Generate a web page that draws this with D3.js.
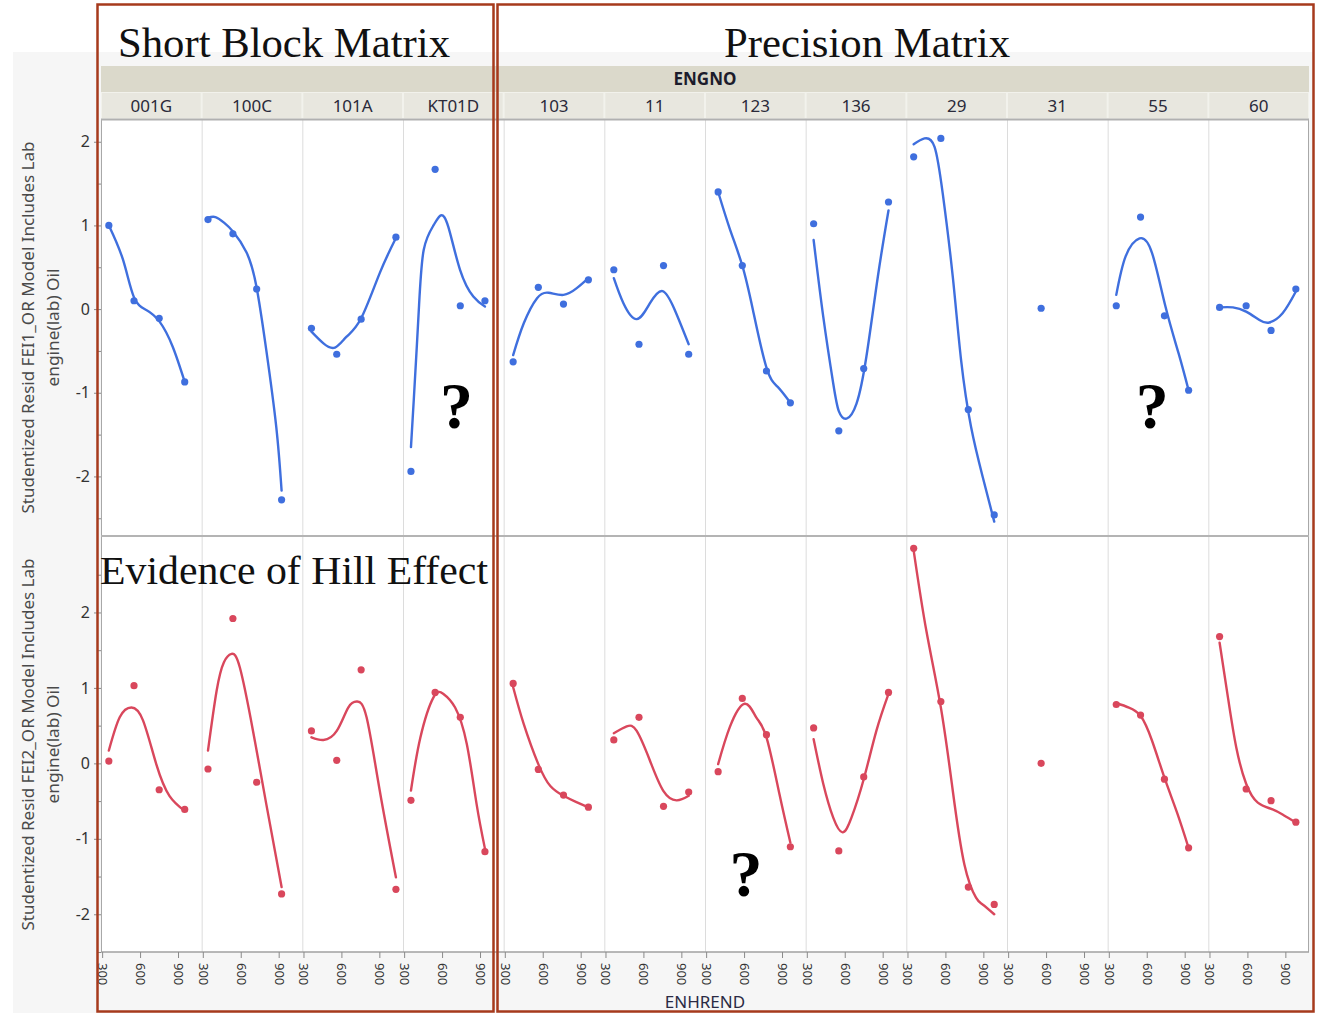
<!DOCTYPE html>
<html>
<head>
<meta charset="utf-8">
<script src="https://cdn.jsdelivr.net/npm/d3@7"></script>
<style>
  html, body { margin: 0; padding: 0; background: #ffffff; }
  svg { display: block; }
</style>
</head>
<body>
<svg id="chart" width="1319" height="1013"></svg>
<script>
// ---- data -----------------------------------------------------------------
const engines = ["001G", "100C", "101A", "KT01D", "103", "11", "123", "136", "29", "31", "55", "60"];

// ENHREND of each test, per engine
const enhrend = [
  [353, 552, 751, 953],
  [341, 538, 726, 923],
  [363, 563, 756, 1031],
  [354, 545, 744, 939],
  [366, 565, 764, 961],
  [366, 565, 759, 958],
  [395, 586, 777, 966],
  [354, 553, 750, 946],
  [349, 564, 781, 986],
  [561],
  [359, 551, 740, 931],
  [380, 590, 787, 983]
];

// Studentized residuals, FEI1 model
const residFEI1 = [
  [1.00, 0.10, -0.11, -0.87],
  [1.07, 0.90, 0.24, -2.28],
  [-0.23, -0.54, -0.12, 0.86],
  [-1.94, 1.67, 0.04, 0.10],
  [-0.63, 0.26, 0.06, 0.35],
  [0.47, -0.42, 0.52, -0.54],
  [1.40, 0.52, -0.74, -1.12],
  [1.02, -1.455, -0.71, 1.28],
  [1.82, 2.04, -1.20, -2.46],
  [0.01],
  [0.04, 1.10, -0.08, -0.97],
  [0.02, 0.04, -0.255, 0.24]
];

// Studentized residuals, FEI2 model
const residFEI2 = [
  [0.03, 1.03, -0.35, -0.61],
  [-0.075, 1.92, -0.25, -1.73],
  [0.43, 0.04, 1.24, -1.67],
  [-0.49, 0.94, 0.61, -1.17],
  [1.06, -0.08, -0.42, -0.58],
  [0.31, 0.61, -0.57, -0.38],
  [-0.11, 0.86, 0.38, -1.105],
  [0.47, -1.16, -0.18, 0.94],
  [2.85, 0.82, -1.64, -1.87],
  [0.00],
  [0.78, 0.64, -0.21, -1.12],
  [1.68, -0.34, -0.495, -0.78]
];

// Smoothing-spline fit, FEI1 model: [ENHREND, fitted residual]
const fitFEI1 = [
  [[353, 1.0], [465, 0.59], [552, 0.14], [649, -0.01], [754, -0.15], [858, -0.45], [953, -0.87]],
  [[341, 1.09], [400, 1.10], [470, 1.03], [540, 0.925], [645, 0.68], [724, 0.27], [802, -0.49], [881, -1.41], [923, -2.17]],
  [[363, -0.27], [458, -0.41], [549, -0.46], [641, -0.33], [756, -0.11], [903, 0.43], [1031, 0.85]],
  [[354, -1.65], [376, -1.09], [416, -0.01], [455, 0.71], [532, 1.0], [590, 1.12], [650, 0.98], [742, 0.47], [847, 0.15], [939, 0.03]],
  [[366, -0.55], [450, -0.17], [555, 0.13], [646, 0.195], [764, 0.17], [869, 0.25], [961, 0.37]],
  [[366, 0.37], [442, 0.07], [547, -0.12], [652, 0.07], [751, 0.215], [848, -0.01], [958, -0.42]],
  [[395, 1.40], [487, 0.96], [586, 0.52], [670, -0.01], [777, -0.70], [866, -0.93], [966, -1.12]],
  [[354, 0.825], [430, -0.09], [509, -0.89], [553, -1.22], [614, -1.31], [693, -1.13], [771, -0.57], [862, 0.39], [946, 1.18]],
  [[349, 1.97], [435, 2.04], [514, 1.94], [579, 1.38], [658, 0.39], [724, -0.61], [803, -1.41], [894, -2.0], [986, -2.54]],
  [],
  [[359, 0.17], [433, 0.63], [543, 0.845], [642, 0.67], [748, 0.03], [852, -0.53], [931, -0.97]],
  [[380, 0.02], [485, 0.02], [590, -0.03], [695, -0.13], [773, -0.16], [878, -0.05], [983, 0.21]]
];

// Smoothing-spline fit, FEI2 model: [ENHREND, fitted residual]
const fitFEI2 = [
  [[353, 0.17], [439, 0.61], [531, 0.74], [623, 0.57], [728, -0.01], [832, -0.43], [953, -0.63]],
  [[341, 0.17], [409, 0.96], [467, 1.34], [527, 1.45], [593, 1.27], [697, 0.43], [802, -0.54], [923, -1.64]],
  [[363, 0.345], [458, 0.31], [563, 0.43], [654, 0.74], [725, 0.82], [799, 0.61], [903, -0.36], [1031, -1.51]],
  [[354, -0.36], [428, 0.34], [532, 0.875], [611, 0.92], [703, 0.74], [795, 0.26], [873, -0.54], [939, -1.13]],
  [[366, 1.01], [450, 0.52], [565, -0.01], [660, -0.30], [764, -0.43], [862, -0.51], [961, -0.58]],
  [[366, 0.40], [468, 0.49], [547, 0.43], [652, 0.035], [756, -0.36], [862, -0.49], [958, -0.43]],
  [[395, -0.01], [487, 0.48], [604, 0.79], [696, 0.61], [777, 0.345], [880, -0.41], [966, -1.05]],
  [[354, 0.32], [430, -0.27], [509, -0.72], [582, -0.915], [653, -0.72], [750, -0.21], [850, 0.43], [946, 0.92]],
  [[349, 2.82], [449, 1.76], [564, 0.74], [658, -0.36], [750, -1.34], [842, -1.78], [894, -1.87], [986, -2.0]],
  [],
  [[359, 0.80], [459, 0.74], [551, 0.63], [642, 0.30], [740, -0.19], [839, -0.65], [931, -1.12]],
  [[380, 1.60], [446, 0.875], [512, 0.21], [590, -0.27], [682, -0.52], [799, -0.61], [890, -0.69], [983, -0.78]]
];

const yTicks = [-2, -1, 0, 1, 2];
const yMinorTicks = [-2.5, -1.5, -0.5, 0.5, 1.5, 2.5];
const xTicks = [300, 600, 900];

const rowTitles = ["Studentized Resid FEI1_OR Model Includes Lab", "Studentized Resid FEI2_OR Model Includes Lab"];
const rowSubtitle = "engine(lab) Oil";
const groupTitle = "ENGNO";
const xTitle = "ENHREND";

// callouts written over the chart
const boxTitles = ["Short Block Matrix", "Precision Matrix"];
const hillNote = "Evidence of Hill Effect";
// question marks: [engine, row, ENHREND, residual at glyph baseline]
const queries = [["KT01D", 0, 714, -1.42], ["55", 0, 643, -1.42], ["123", 1, 615, -1.76]];

// ---- layout ---------------------------------------------------------------
const svg = d3.select("#chart");
const sans = "'Noto Sans', 'Open Sans', sans-serif";
const serif = "'Liberation Serif', 'DejaVu Serif', serif";
const plotL = 101, plotR = 1309;
const frameColor = "#a8a8a8";

const rows = [
  { top: 120, bottom: 535, domain: [-2.7, 2.26], pts: residFEI1, fit: fitFEI1, color: "#3f6fde" },
  { top: 537, bottom: 952, domain: [-2.5, 3.0], pts: residFEI2, fit: fitFEI2, color: "#d9475c" }
];
rows.forEach(r => { r.y = d3.scaleLinear().domain(r.domain).range([r.bottom, r.top]); });

const band = d3.scaleBand().domain(engines).range([plotL, plotR]).padding(0);
const xPanel = d3.scaleLinear().domain([291, 1087]).range([0, band.bandwidth()]);

// report background
svg.append("rect").attr("x", 13).attr("y", 52).attr("width", 1300).attr("height", 961).attr("fill", "#f6f6f6");

// ---- group header ---------------------------------------------------------
svg.append("rect").attr("x", plotL).attr("y", 66).attr("width", plotR - plotL).attr("height", 26).attr("fill", "#dbd9cb");
svg.append("text").attr("x", (plotL + plotR) / 2).attr("y", 85)
  .attr("text-anchor", "middle").attr("font-family", sans).attr("font-size", 17)
  .attr("font-weight", "bold").attr("fill", "#1c1c2c").text(groupTitle);

svg.append("rect").attr("x", plotL).attr("y", 92).attr("width", plotR - plotL).attr("height", 27).attr("fill", "#f2f2ec");
const cells = svg.append("g").selectAll("g").data(engines).join("g")
  .attr("transform", d => `translate(${band(d)},0)`);
cells.append("rect").attr("x", 1).attr("y", 93).attr("width", band.bandwidth() - 2).attr("height", 25).attr("fill", "#e8e7df");
cells.append("text").attr("x", band.bandwidth() / 2).attr("y", 112)
  .attr("text-anchor", "middle").attr("font-family", sans).attr("font-size", 17)
  .attr("fill", "#2a2a3a").text(d => d);

// ---- rows -----------------------------------------------------------------
const line = d3.line().curve(d3.curveNatural);

rows.forEach((r, ri) => {
  const g = svg.append("g");
  g.append("rect").attr("x", plotL).attr("y", r.top).attr("width", plotR - plotL)
    .attr("height", r.bottom - r.top).attr("fill", "#ffffff");

  // panel separators
  g.selectAll("line.sep").data(engines.slice(1)).join("line")
    .attr("x1", d => band(d) + 0.5).attr("x2", d => band(d) + 0.5)
    .attr("y1", r.top).attr("y2", r.bottom)
    .attr("stroke", "#dcdcdc").attr("stroke-width", 1);

  // y axis
  const yMajor = d3.axisLeft(r.y).tickValues(yTicks).tickSize(7).tickPadding(4).tickFormat(d => String(d));
  const ya = g.append("g").attr("transform", `translate(${plotL},0)`).call(yMajor);
  ya.select(".domain").remove();
  ya.selectAll("line").attr("stroke", "#8a8a8a");
  ya.selectAll("text").attr("font-family", sans).attr("font-size", 16).attr("fill", "#333");
  const yMinor = d3.axisLeft(r.y).tickValues(yMinorTicks.filter(v => v >= r.domain[0] && v <= r.domain[1]))
    .tickSize(4).tickFormat("");
  const ym = g.append("g").attr("transform", `translate(${plotL},0)`).call(yMinor);
  ym.select(".domain").remove();
  ym.selectAll("line").attr("stroke", "#8a8a8a");

  // row title
  const cy = (r.top + r.bottom) / 2;
  const t = g.append("text").attr("transform", `translate(0,${cy}) rotate(-90)`)
    .attr("text-anchor", "middle").attr("font-family", sans).attr("font-size", 16).attr("fill", "#4a4a4a");
  t.append("tspan").attr("x", 0).attr("y", 34).attr("textLength", 372).attr("lengthAdjust", "spacingAndGlyphs")
    .text(rowTitles[ri]);
  t.append("tspan").attr("x", 0).attr("y", 59).attr("textLength", 118).attr("lengthAdjust", "spacingAndGlyphs")
    .text(rowSubtitle);

  // panels
  engines.forEach((e, ei) => {
    const pg = g.append("g").attr("transform", `translate(${band(e)},0)`);
    const fit = r.fit[ei];
    if (fit.length) {
      pg.append("path")
        .attr("d", line.x(d => xPanel(d[0])).y(d => r.y(d[1]))(fit))
        .attr("fill", "none").attr("stroke", r.color).attr("stroke-width", 2.4)
        .attr("stroke-linecap", "round");
    }
    pg.selectAll("circle").data(r.pts[ei].map((v, i) => [enhrend[ei][i], v])).join("circle")
      .attr("cx", d => xPanel(d[0])).attr("cy", d => r.y(d[1])).attr("r", 3.6)
      .attr("fill", r.color);
  });

  // frame
  g.append("line").attr("x1", plotL + 0.5).attr("x2", plotL + 0.5).attr("y1", r.top).attr("y2", r.bottom)
    .attr("stroke", frameColor);
  g.append("line").attr("x1", plotR - 0.5).attr("x2", plotR - 0.5).attr("y1", r.top).attr("y2", r.bottom)
    .attr("stroke", frameColor);
});

// horizontal frame lines (top, row divider, bottom axis)
[[119.5, 2, "#b0b0b0"], [536, 2, "#b4b4b4"], [952, 1.5, "#a0a0a0"]].forEach(([y, w, c]) => {
  svg.append("line").attr("x1", plotL).attr("x2", plotR).attr("y1", y).attr("y2", y)
    .attr("stroke", c).attr("stroke-width", w);
});

// ---- x axes ---------------------------------------------------------------
engines.forEach(e => {
  const ax = d3.axisBottom(xPanel).tickValues(xTicks).tickSize(6).tickPadding(0).tickFormat(d => String(d));
  const a = svg.append("g").attr("transform", `translate(${band(e)},952)`).call(ax);
  a.select(".domain").remove();
  a.selectAll("line").attr("stroke", "#8a8a8a");
  a.selectAll("text")
    .attr("font-family", sans).attr("font-size", 13).attr("fill", "#333")
    .attr("text-anchor", "start").attr("y", 0).attr("dy", "0.35em")
    .attr("transform", "translate(0,11) rotate(90)");
});

svg.append("text").attr("x", (plotL + plotR) / 2).attr("y", 1008)
  .attr("text-anchor", "middle").attr("font-family", sans).attr("font-size", 17)
  .attr("fill", "#2a2a44").text(xTitle);

// ---- callouts -------------------------------------------------------------
svg.append("text").attr("x", 118).attr("y", 57).attr("font-family", serif).attr("font-size", 42)
  .attr("textLength", 332).attr("lengthAdjust", "spacingAndGlyphs").attr("fill", "#111").text(boxTitles[0]);
svg.append("text").attr("x", 724).attr("y", 57).attr("font-family", serif).attr("font-size", 42)
  .attr("textLength", 286).attr("lengthAdjust", "spacingAndGlyphs").attr("fill", "#111").text(boxTitles[1]);
svg.append("text").attr("x", 100).attr("y", 584).attr("font-family", serif).attr("font-size", 40)
  .attr("textLength", 388).attr("lengthAdjust", "spacingAndGlyphs").attr("fill", "#111").text(hillNote);

queries.forEach(([e, ri, xv, yv]) => {
  svg.append("text").attr("x", band(e) + xPanel(xv)).attr("y", rows[ri].y(yv))
    .attr("text-anchor", "middle").attr("font-family", serif).attr("font-size", 66)
    .attr("font-weight", "bold").attr("fill", "#000").text("?");
});

// ---- highlight boxes ------------------------------------------------------
const boxColor = "#a63a1c";
svg.append("rect").attr("x", 97.5).attr("y", 4.5).attr("width", 396).attr("height", 1007)
  .attr("fill", "none").attr("stroke", boxColor).attr("stroke-width", 2.5);
svg.append("rect").attr("x", 497.5).attr("y", 4.5).attr("width", 816).attr("height", 1007)
  .attr("fill", "none").attr("stroke", boxColor).attr("stroke-width", 2.5);
</script>
</body>
</html>
